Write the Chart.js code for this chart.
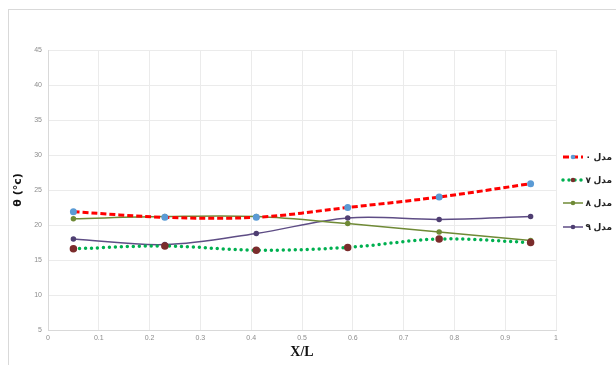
<!DOCTYPE html>
<html>
<head>
<meta charset="utf-8">
<script src="https://cdn.jsdelivr.net/npm/chart.js@4"></script>
<style>
  html, body { margin: 0; padding: 0; background: #fff; }
  #wrap { width: 616px; height: 365px; position: relative; }
</style>
</head>
<body>
<div id="wrap"><canvas id="myChart"></canvas></div>
<script>
// data
const positions = [0.05, 0.23, 0.41, 0.59, 0.77, 0.95];
const model0 = [21.9, 21.1, 21.1, 22.5, 24.0, 25.9];
const model7 = [16.6, 17.0, 16.4, 16.8, 18.0, 17.5];
const model8 = [20.9, 21.2, 21.2, 20.2, 19.0, 17.8];
const model9 = [18.0, 17.2, 18.8, 21.0, 20.8, 21.2];
const seriesNames = ['مدل ۰', 'مدل ۷', 'مدل ۸', 'مدل ۹'];

const ctx = document.getElementById('myChart');

function toPoints(values) {
    return values.map((v, i) => ({ x: positions[i], y: v }));
}

// frame round the chart + legend at the right
const extras = {
    id: 'extras',
    beforeDraw(chart) {
        const c = chart.ctx;
        c.save();
        c.strokeStyle = '#d9d9d9';
        c.lineWidth = 1;
        c.strokeRect(8.5, 9.5, 700, 400);
        c.restore();
    },
    afterDraw(chart) {
        const c = chart.ctx;
        const ys = [157, 180, 203, 227];
        c.save();
        chart.data.datasets.forEach((ds, i) => {
            const y = ys[i];
            c.strokeStyle = ds.borderColor;
            c.lineWidth = ds.borderWidth;
            c.lineCap = ds.borderCapStyle || 'butt';
            c.setLineDash(ds.borderDash || []);
            c.beginPath();
            c.moveTo(563, y);
            c.lineTo(583, y);
            c.stroke();
            c.setLineDash([]);
            c.fillStyle = ds.pointBackgroundColor;
            c.beginPath();
            c.arc(573, y, 2.3, 0, Math.PI * 2);
            c.fill();
            c.fillStyle = '#222';
            c.font = 'bold 9px "Noto Sans", "DejaVu Sans", sans-serif';
            c.textBaseline = 'middle';
            c.textAlign = 'right';
            c.fillText(seriesNames[i], 612, y);
        });
        c.restore();
    }
};

new Chart(ctx, {
    type: 'line',
    data: {
        datasets: [
            {
                label: seriesNames[0],
                data: toPoints(model0),
                borderColor: '#ff0000',
                borderWidth: 3,
                borderDash: [6, 3],
                pointBackgroundColor: '#5b9bd5',
                pointBorderColor: '#5b9bd5'
            },
            {
                label: seriesNames[1],
                data: toPoints(model7),
                borderColor: '#00b050',
                borderWidth: 3.5,
                borderDash: [0, 6],
                borderCapStyle: 'round',
                pointBackgroundColor: '#7b2c2c',
                pointBorderColor: '#7b2c2c'
            },
            {
                label: seriesNames[2],
                data: toPoints(model8),
                borderColor: '#6f8a36',
                borderWidth: 1.5,
                pointBackgroundColor: '#6f8a36',
                pointBorderColor: '#6f8a36'
            },
            {
                label: seriesNames[3],
                data: toPoints(model9),
                borderColor: '#5e4d85',
                borderWidth: 1.5,
                pointBackgroundColor: '#4f3f72',
                pointBorderColor: '#4f3f72'
            }
        ]
    },
    options: {
        responsive: true,
        maintainAspectRatio: false,
        animation: false,
        elements: {
            line: { tension: 0.35 },
            point: { radius: 2, borderWidth: 1 }
        },
        layout: { padding: { left: 8, top: 50, right: 60, bottom: 0 } },
        plugins: {
            legend: { display: false },
            tooltip: { enabled: false }
        },
        scales: {
            x: {
                type: 'linear',
                min: 0,
                max: 1,
                ticks: {
                    stepSize: 0.1,
                    color: '#8c8c8c',
                    font: { size: 7 },
                    padding: 4,
                    maxRotation: 0,
                    callback: v => String(Number(v.toFixed(1)))
                },
                grid: { color: '#ebebeb', drawTicks: false },
                border: { color: '#d9d9d9' },
                title: {
                    display: true,
                    text: 'X/L',
                    color: '#111',
                    font: { family: '"Liberation Serif", serif', size: 14, weight: 'bold' },
                    padding: { top: 6 }
                },
                afterFit(scale) { scale.height = 35; }
            },
            y: {
                min: 5,
                max: 45,
                ticks: {
                    stepSize: 5,
                    color: '#8c8c8c',
                    font: { size: 7 },
                    padding: 6
                },
                grid: { color: '#ebebeb', drawTicks: false },
                border: { color: '#d9d9d9' },
                title: {
                    display: true,
                    text: 'θ (°c)',
                    color: '#111',
                    font: { family: '"DejaVu Sans", sans-serif', size: 11, weight: 'bold' },
                    padding: { bottom: 8 }
                },
                afterFit(scale) { scale.width = 40; }
            }
        }
    },
    plugins: [extras]
});
</script>
</body>
</html>
